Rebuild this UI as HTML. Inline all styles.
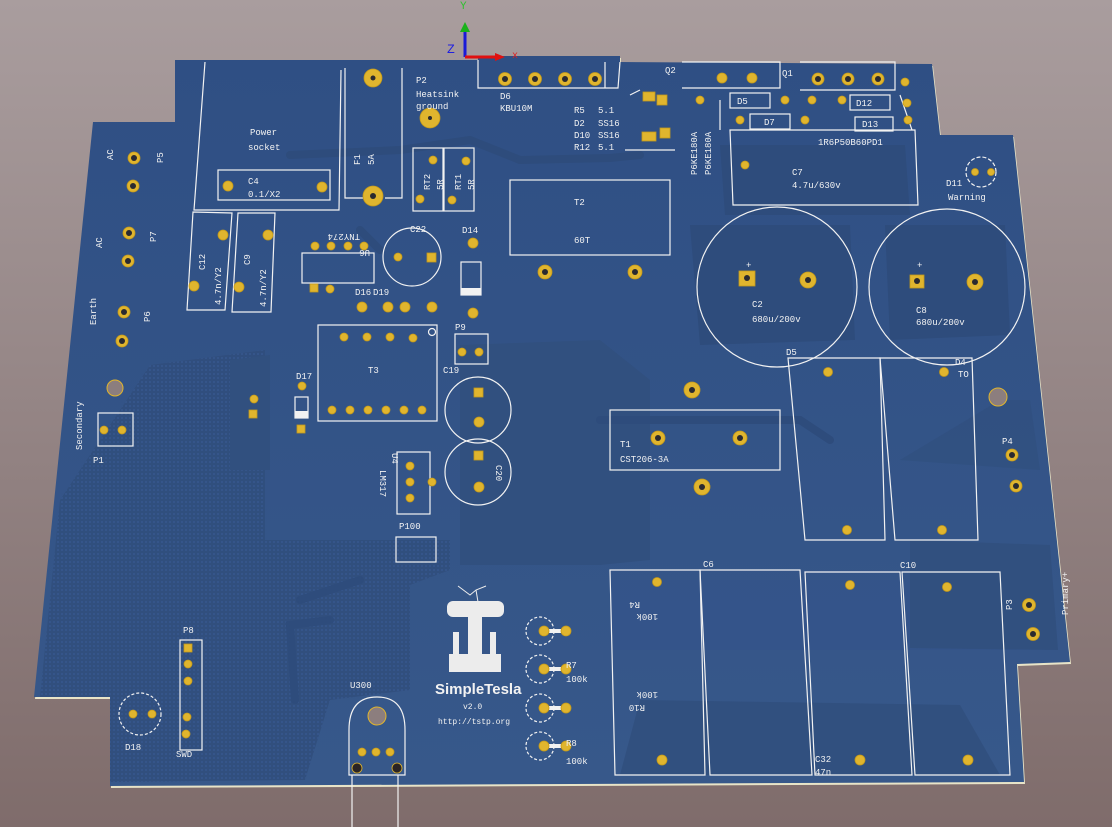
<!DOCTYPE html>
<html><head><meta charset="utf-8"><style>
html,body{margin:0;padding:0;width:1112px;height:827px;overflow:hidden}
svg{display:block}
text{font-family:"Liberation Mono","DejaVu Sans Mono",monospace;fill:#f2f2f2;font-size:9px}
</style></head><body>
<svg width="1112" height="827" viewBox="0 0 1112 827" xmlns="http://www.w3.org/2000/svg">
<defs>
<linearGradient id="bg" x1="0" y1="0" x2="0" y2="1">
<stop offset="0" stop-color="#a99d9e"/><stop offset="1" stop-color="#7f6c6b"/>
</linearGradient>
<linearGradient id="bd" x1="0" y1="0" x2="0" y2="1">
<stop offset="0" stop-color="#2f4f84"/><stop offset="1" stop-color="#37588a"/>
</linearGradient>
<pattern id="hatch" width="4" height="4" patternUnits="userSpaceOnUse">
<rect width="4" height="4" fill="#304e7d"/><rect x="1" y="1" width="2" height="2" fill="#35558a"/>
</pattern>
</defs>
<rect width="1112" height="827" fill="url(#bg)"/>
<polygon points="175,60 478,60 478,56 620,56 620,62 932,64 940,135 1013,135 1070,662 1017,664 1024,782 110,786 110,697 34,697 93,122 175,122" fill="#e8e4c8" transform="translate(1,2)"/>
<polygon points="175,60 478,60 478,56 620,56 620,62 932,64 940,135 1013,135 1070,662 1017,664 1024,782 110,786 110,697 34,697 93,122 175,122" fill="url(#bd)"/>
<path d="M150,365 L265,350 L265,540 L450,540 L450,570 L410,585 L410,690 L330,700 L305,780 L110,782 L110,697 L40,697 L60,500 Z" fill="url(#hatch)" opacity="0.9"/>
<path d="M460,345 L600,340 L650,380 L650,560 L600,565 L460,565 Z" fill="#31507f"/>
<path d="M230,360 L270,355 L270,470 L230,470 Z" fill="#31507f"/>
<path d="M690,225 L850,225 L855,340 L700,345 Z" fill="#2e4c7c"/>
<path d="M885,225 L1005,225 L1010,335 L890,340 Z" fill="#2e4c7c"/>
<path d="M720,145 L905,145 L910,215 L725,215 Z" fill="#2e4c7c"/>
<path d="M640,700 L960,705 L1000,775 L620,775 Z" fill="#31507f"/>
<path d="M610,580 L1050,580 L1055,650 L610,650 Z" fill="#33538a" opacity="0.6"/>
<path d="M910,540 L1050,545 L1058,650 L910,648 Z" fill="#31507f"/>
<path d="M1000,400 L1030,400 L1040,470 L900,460 Z" fill="#31507f" opacity="0.7"/>
<g stroke="#2e4c7c" stroke-width="8" fill="none" stroke-linecap="round">
<path d="M290,155 L400,150 L470,140 L520,160"/>
<path d="M520,160 L610,158 L640,155"/>
<path d="M600,420 L800,420 L830,440"/>
<path d="M330,620 L290,625 L295,700"/>
<path d="M300,600 L360,580"/>
<path d="M380,250 L360,230"/>
</g>
<line x1="465" y1="57" x2="465" y2="30" stroke="#1a1ad8" stroke-width="3"/>
<polygon points="460,32 465,22 470,32" fill="#19b21a"/>
<line x1="465" y1="57" x2="497" y2="57" stroke="#e01010" stroke-width="3"/>
<polygon points="495,53 505,57 495,61" fill="#e01010"/>
<text x="460" y="9" style="fill:#30c030;font-size:11px">Y</text>
<text x="447" y="53" style="fill:#2020e0;font-size:13px">Z</text>
<text x="512" y="58" style="fill:#e02020;font-size:10px">x</text>
<g stroke="#f2f2f2" stroke-width="1.2" fill="none">
<path d="M205,62 L194,210 L339,210 L341,70"/>
<rect x="218" y="170" width="112" height="30"/>
<path d="M345,68 L345,198 L370,198 M385,198 L402,198 L402,68"/>
<path d="M478,60 L478,88 L618,88 L620,62 M605,62 L605,88"/>
<rect x="413" y="148" width="30" height="63"/>
<rect x="444" y="148" width="30" height="63"/>
<path d="M193,212 L187,310 L225,310 L232,213 Z"/>
<path d="M238,213 L232,312 L271,312 L275,213 Z"/>
<rect x="302" y="253" width="72" height="30"/>
<circle cx="412" cy="257" r="29"/>
<rect x="461" y="262" width="20" height="33"/>
<rect x="318" y="325" width="119" height="96"/>
<circle cx="432" cy="332" r="3.5"/>
<rect x="295" y="397" width="13" height="21"/>
<rect x="455" y="334" width="33" height="30"/>
<circle cx="478" cy="410" r="33"/>
<circle cx="478" cy="472" r="33"/>
<rect x="397" y="452" width="33" height="62"/>
<rect x="396" y="537" width="40" height="25"/>
<rect x="98" y="413" width="35" height="33"/>
<rect x="180" y="640" width="22" height="110"/>
<circle cx="140" cy="714" r="21" stroke-dasharray="3,2"/>
<path d="M349,775 L349,730 Q349,697 377,697 Q405,697 405,730 L405,775 Z"/>
<line x1="352" y1="775" x2="352" y2="827"/><line x1="398" y1="775" x2="398" y2="827"/>
<rect x="510" y="180" width="160" height="75"/>
<rect x="610" y="410" width="170" height="60"/>
<path d="M730,130 L915,130 L918,205 L733,205 Z"/>
<path d="M682,62 L780,62 L780,88 L682,88"/>
<path d="M800,62 L895,62 L895,90 L800,90"/>
<rect x="730" y="93" width="40" height="15"/>
<rect x="850" y="95" width="40" height="15"/>
<rect x="750" y="114" width="40" height="15"/>
<rect x="855" y="117" width="38" height="14"/>
<path d="M900,95 L912,130 M720,100 L720,130"/>
<circle cx="777" cy="287" r="80"/>
<circle cx="947" cy="287" r="78"/>
<circle cx="981" cy="172" r="15" stroke-dasharray="4,2"/>
<path d="M788,358 L880,358 L885,540 L805,540 Z"/>
<path d="M880,358 L972,358 L978,540 L895,540 Z"/>
<path d="M610,570 L700,570 L705,775 L615,775 Z"/>
<path d="M700,570 L800,570 L812,775 L710,775 Z"/>
<path d="M805,572 L900,572 L912,775 L815,775 Z"/>
<path d="M902,572 L1000,572 L1010,775 L915,775 Z"/>
<g stroke-dasharray="3,2">
<circle cx="540" cy="631" r="14"/><circle cx="540" cy="669" r="14"/><circle cx="540" cy="708" r="14"/><circle cx="540" cy="746" r="14"/>
</g>
<path d="M630,95 L640,90 M625,150 L675,150"/>
</g>
<g stroke="#f2f2f2" stroke-width="4">
<line x1="545" y1="631" x2="565" y2="631"/><line x1="545" y1="669" x2="565" y2="669"/><line x1="545" y1="708" x2="565" y2="708"/><line x1="545" y1="746" x2="565" y2="746"/>
</g>
<rect x="461" y="288" width="20" height="7" fill="#f2f2f2"/>
<rect x="295" y="411" width="13" height="7" fill="#f2f2f2"/>
<g fill="#ececec">
<rect x="447" y="601" width="57" height="16" rx="6"/>
<rect x="468" y="615" width="14" height="40"/>
<rect x="453" y="632" width="6" height="22"/><rect x="490" y="632" width="6" height="22"/>
<rect x="449" y="654" width="52" height="18"/>
</g>
<path d="M458,586 L470,595 L476,590 L486,586 M476,590 L478,602" stroke="#ececec" stroke-width="1" fill="none"/>
<text x="435" y="694" style="font-family:'Liberation Sans',sans-serif;font-size:15px;font-weight:bold">SimpleTesla</text>
<text x="463" y="709" style="font-size:8px">v2.0</text>
<text x="438" y="724" style="font-size:8px">http://tstp.org</text>
<g fill="#e0b52e" stroke="#c59a1a" stroke-width="0.8">
<circle cx="373" cy="78" r="9"/><circle cx="373" cy="196" r="10"/><circle cx="430" cy="118" r="10"/>
<circle cx="505" cy="79" r="6.5"/><circle cx="535" cy="79" r="6.5"/><circle cx="565" cy="79" r="6.5"/><circle cx="595" cy="79" r="6.5"/>
<circle cx="228" cy="186" r="5"/><circle cx="322" cy="187" r="5"/>
<circle cx="433" cy="160" r="4"/><circle cx="420" cy="199" r="4"/><circle cx="466" cy="161" r="4"/><circle cx="452" cy="200" r="4"/>
<circle cx="134" cy="158" r="6"/><circle cx="133" cy="186" r="6"/>
<circle cx="129" cy="233" r="6"/><circle cx="128" cy="261" r="6"/>
<circle cx="124" cy="312" r="6"/><circle cx="122" cy="341" r="6"/>
<circle cx="104" cy="430" r="4"/><circle cx="122" cy="430" r="4"/>
<circle cx="223" cy="235" r="5"/><circle cx="194" cy="286" r="5"/>
<circle cx="268" cy="235" r="5"/><circle cx="239" cy="287" r="5"/>
<circle cx="315" cy="246" r="4"/><circle cx="331" cy="246" r="4"/><circle cx="348" cy="246" r="4"/><circle cx="364" cy="246" r="4"/>
<rect x="310" y="284" width="8" height="8"/><circle cx="330" cy="289" r="4"/>
<circle cx="398" cy="257" r="4"/><rect x="427" y="253" width="9" height="9"/>
<circle cx="473" cy="243" r="5"/><circle cx="473" cy="313" r="5"/>
<circle cx="362" cy="307" r="5"/><circle cx="388" cy="307" r="5"/><circle cx="405" cy="307" r="5"/><circle cx="432" cy="307" r="5"/>
<circle cx="344" cy="337" r="4"/><circle cx="367" cy="337" r="4"/><circle cx="390" cy="337" r="4"/><circle cx="413" cy="338" r="4"/>
<circle cx="332" cy="410" r="4"/><circle cx="350" cy="410" r="4"/><circle cx="368" cy="410" r="4"/><circle cx="386" cy="410" r="4"/><circle cx="404" cy="410" r="4"/><circle cx="422" cy="410" r="4"/>
<circle cx="302" cy="386" r="4"/><rect x="297" y="425" width="8" height="8"/>
<circle cx="254" cy="399" r="4"/><rect x="249" y="410" width="8" height="8"/>
<circle cx="462" cy="352" r="4"/><circle cx="479" cy="352" r="4"/>
<rect x="474" y="388" width="9" height="9"/><circle cx="479" cy="422" r="5"/>
<rect x="474" y="451" width="9" height="9"/><circle cx="479" cy="487" r="5"/>
<circle cx="410" cy="466" r="4"/><circle cx="410" cy="482" r="4"/><circle cx="410" cy="498" r="4"/><circle cx="432" cy="482" r="4"/>
<rect x="184" y="644" width="8" height="8"/><circle cx="188" cy="664" r="4"/><circle cx="188" cy="681" r="4"/><circle cx="187" cy="717" r="4"/><circle cx="186" cy="734" r="4"/>
<circle cx="133" cy="714" r="4"/><circle cx="152" cy="714" r="4"/>
<circle cx="362" cy="752" r="4"/><circle cx="376" cy="752" r="4"/><circle cx="390" cy="752" r="4"/>
<circle cx="545" cy="272" r="7"/><circle cx="635" cy="272" r="7"/>
<circle cx="658" cy="438" r="7"/><circle cx="740" cy="438" r="7"/><circle cx="702" cy="487" r="8"/>
<circle cx="692" cy="390" r="8"/>
<rect x="739" y="271" width="16" height="15"/><circle cx="808" cy="280" r="8"/>
<rect x="910" y="275" width="14" height="13"/><circle cx="975" cy="282" r="8"/>
<circle cx="975" cy="172" r="3.5"/><circle cx="991" cy="172" r="3.5"/>
<circle cx="828" cy="372" r="4.5"/><circle cx="847" cy="530" r="4.5"/>
<circle cx="944" cy="372" r="4.5"/><circle cx="942" cy="530" r="4.5"/>
<circle cx="1012" cy="455" r="6"/><circle cx="1016" cy="486" r="6"/>
<circle cx="1029" cy="605" r="6.5"/><circle cx="1033" cy="634" r="6.5"/>
<circle cx="657" cy="582" r="4.5"/><circle cx="662" cy="760" r="5"/>
<circle cx="850" cy="585" r="4.5"/><circle cx="860" cy="760" r="5"/>
<circle cx="947" cy="587" r="4.5"/><circle cx="968" cy="760" r="5"/>
<circle cx="544" cy="631" r="5"/><circle cx="566" cy="631" r="5"/>
<circle cx="544" cy="669" r="5"/><circle cx="566" cy="669" r="5"/>
<circle cx="544" cy="708" r="5"/><circle cx="566" cy="708" r="5"/>
<circle cx="544" cy="746" r="5"/><circle cx="566" cy="746" r="5"/>
<circle cx="722" cy="78" r="5"/><circle cx="752" cy="78" r="5"/><circle cx="785" cy="100" r="4"/>
<circle cx="818" cy="79" r="6"/><circle cx="848" cy="79" r="6"/><circle cx="878" cy="79" r="6"/>
<circle cx="905" cy="82" r="4"/><circle cx="907" cy="103" r="4"/><circle cx="908" cy="120" r="4"/>
<circle cx="812" cy="100" r="4"/><circle cx="842" cy="100" r="4"/><circle cx="740" cy="120" r="4"/><circle cx="805" cy="120" r="4"/>
<circle cx="700" cy="100" r="4"/><circle cx="745" cy="165" r="4"/>
<rect x="643" y="92" width="12" height="9"/><rect x="657" y="95" width="10" height="10"/>
<rect x="642" y="132" width="14" height="9"/><rect x="660" y="128" width="10" height="10"/>
</g>
<g fill="#2a2a30">
<circle cx="373" cy="78" r="2.5"/><circle cx="373" cy="196" r="3"/><circle cx="430" cy="118" r="2"/>
<circle cx="505" cy="79" r="3"/><circle cx="535" cy="79" r="3"/><circle cx="565" cy="79" r="3"/><circle cx="595" cy="79" r="3"/>
<circle cx="134" cy="158" r="3"/><circle cx="133" cy="186" r="3"/><circle cx="129" cy="233" r="3"/><circle cx="128" cy="261" r="3"/>
<circle cx="124" cy="312" r="3"/><circle cx="122" cy="341" r="3"/>
<circle cx="545" cy="272" r="3"/><circle cx="635" cy="272" r="3"/><circle cx="658" cy="438" r="3"/><circle cx="740" cy="438" r="3"/>
<circle cx="702" cy="487" r="3"/><circle cx="692" cy="390" r="3"/><circle cx="808" cy="280" r="3"/><circle cx="975" cy="282" r="3"/>
<circle cx="747" cy="278" r="3"/><circle cx="917" cy="281" r="3"/>
<circle cx="1012" cy="455" r="3"/><circle cx="1016" cy="486" r="3"/><circle cx="1029" cy="605" r="3"/><circle cx="1033" cy="634" r="3"/>
<circle cx="818" cy="79" r="3"/><circle cx="848" cy="79" r="3"/><circle cx="878" cy="79" r="3"/>
</g>
<g fill="#8c7e7e" stroke="#e0b52e" stroke-width="1">
<circle cx="115" cy="388" r="8"/><circle cx="998" cy="397" r="9"/><circle cx="377" cy="716" r="9"/>
</g>
<circle cx="357" cy="768" r="5" fill="#2a2424" stroke="#e0b52e" stroke-width="0.8"/>
<circle cx="397" cy="768" r="5" fill="#2a2424" stroke="#e0b52e" stroke-width="0.8"/>
<text x="250" y="135">Power</text><text x="248" y="150">socket</text>
<text x="248" y="184">C4</text><text x="248" y="197">0.1/X2</text>
<text x="416" y="83">P2</text><text x="416" y="97">Heatsink</text><text x="416" y="109">ground</text>
<text x="500" y="99">D6</text><text x="500" y="111">KBU10M</text>
<text x="574" y="113">R5</text><text x="598" y="113">5.1</text>
<text x="574" y="126">D2</text><text x="598" y="126">SS16</text>
<text x="574" y="138">D10</text><text x="598" y="138">SS16</text>
<text x="574" y="150">R12</text><text x="598" y="150">5.1</text>
<text x="665" y="73">Q2</text><text x="782" y="76">Q1</text>
<text x="737" y="104">D5</text><text x="856" y="106">D12</text><text x="764" y="125">D7</text><text x="862" y="127">D13</text>
<text x="818" y="145">1R6P50B60PD1</text>
<text x="792" y="175">C7</text><text x="792" y="188">4.7u/630v</text>
<text x="946" y="186">D11</text><text x="948" y="200">Warning</text>
<text x="574" y="205">T2</text><text x="574" y="243">60T</text>
<text x="746" y="268">+</text><text x="917" y="268">+</text>
<text x="752" y="307">C2</text><text x="752" y="322">680u/200v</text>
<text x="916" y="313">C8</text><text x="916" y="325">680u/200v</text>
<text x="786" y="355">D5</text><text x="955" y="365">D4</text><text x="958" y="377">TO</text>
<text x="1002" y="444">P4</text>
<text x="620" y="447">T1</text><text x="620" y="462">CST206-3A</text>
<text x="703" y="567">C6</text><text x="900" y="568">C10</text>
<text x="815" y="762">C32</text><text x="815" y="775">47n</text>
<text x="566" y="668">R7</text><text x="566" y="682">100k</text>
<text x="566" y="746">R8</text><text x="566" y="764">100k</text>
<text x="410" y="232">C22</text><text x="462" y="233">D14</text>
<text x="373" y="295">D19</text><text x="355" y="295">D16</text>
<text x="368" y="373">T3</text><text x="296" y="379">D17</text>
<text x="455" y="330">P9</text><text x="443" y="373">C19</text>
<text x="399" y="529">P100</text>
<text x="176" y="757">SWD</text><text x="183" y="633">P8</text>
<text x="125" y="750">D18</text><text x="350" y="688">U300</text>
<text x="93" y="463">P1</text>
<g>
<text transform="translate(360,234) rotate(180)">TNY274</text>
<text transform="translate(370,250) rotate(180)">U6</text>
<text transform="translate(658,614) rotate(180)">100k</text><text transform="translate(640,602) rotate(180)">R4</text>
<text transform="translate(658,692) rotate(180)">100k</text><text transform="translate(645,705) rotate(180)">R10</text>
<text transform="translate(113,160) rotate(-90)">AC</text>
<text transform="translate(163,163) rotate(-90)">P5</text>
<text transform="translate(102,248) rotate(-90)">AC</text>
<text transform="translate(156,242) rotate(-90)">P7</text>
<text transform="translate(96,325) rotate(-90)">Earth</text>
<text transform="translate(150,322) rotate(-90)">P6</text>
<text transform="translate(82,450) rotate(-90)">Secondary</text>
<text transform="translate(360,165) rotate(-90)">F1</text><text transform="translate(374,165) rotate(-90)">5A</text>
<text transform="translate(430,190) rotate(-90)">RT2</text><text transform="translate(443,190) rotate(-90)">5R</text>
<text transform="translate(461,190) rotate(-90)">RT1</text><text transform="translate(474,190) rotate(-90)">5R</text>
<text transform="translate(205,270) rotate(-90)">C12</text><text transform="translate(221,305) rotate(-90)">4.7n/Y2</text>
<text transform="translate(250,265) rotate(-90)">C9</text><text transform="translate(266,307) rotate(-90)">4.7n/Y2</text>
<text transform="translate(380,470) rotate(90)">LM317</text><text transform="translate(392,453) rotate(90)">U4</text>
<text transform="translate(496,465) rotate(90)">C20</text>
<text transform="translate(697,175) rotate(-90)">P6KE180A</text><text transform="translate(711,175) rotate(-90)">P6KE180A</text>
<text transform="translate(1012,610) rotate(-90)">P3</text>
<text transform="translate(1068,615) rotate(-90)">Primary+</text>
</g>
</svg>
</body></html>
